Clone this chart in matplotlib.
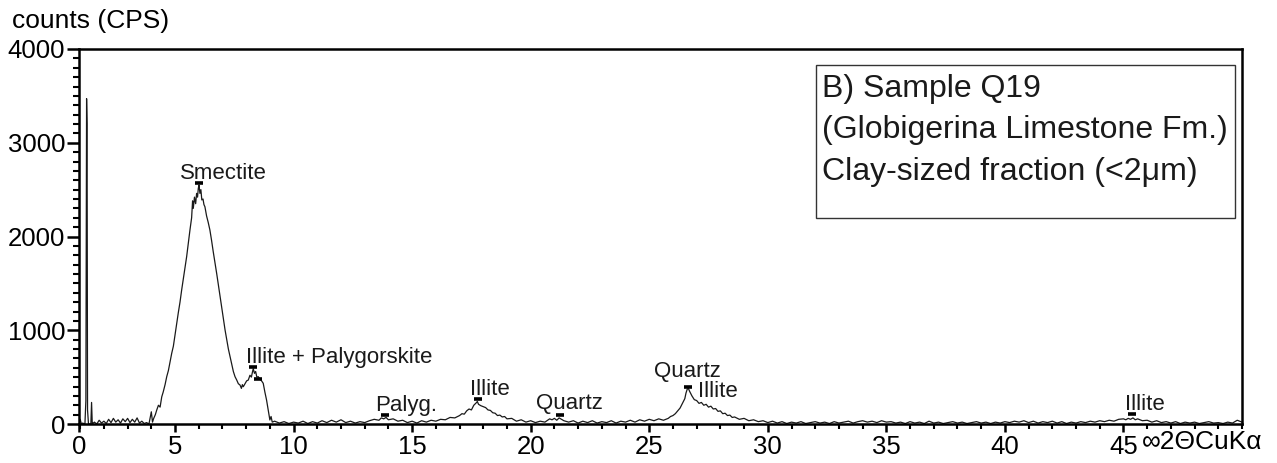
import matplotlib
matplotlib.use("Agg")
import matplotlib.pyplot as plt
from matplotlib.patches import Rectangle
from matplotlib.ticker import MultipleLocator, FixedLocator

plt.rcParams['font.family'] = ['Liberation Sans', 'DejaVu Sans']

# ---------------- data ----------------
two_theta_low = [0.95, 1.0, 1.05, 1.1, 1.2, 1.24, 1.27, 1.29, 1.31, 1.35, 1.45, 1.48, 1.51, 1.55,
                 1.6, 1.7, 1.8, 1.9, 2.0, 2.1, 2.2, 2.3, 2.4, 2.5, 2.6, 2.7, 2.8, 2.9, 3.0,
                 3.1, 3.2, 3.3, 3.4, 3.5, 3.6, 3.7, 3.8, 3.9, 4.0, 4.05, 4.1]
counts_low = [0, 50, 0, 10, 0, 250, 3470, 3200, 150, 0, 0, 230, 0, 10,
              20, 0, 40, 10, 30, 5, 50, 15, 60, 20, 45, 10, 55, 25, 60,
              15, 50, 20, 65, 10, 30, 5, 15, 0, 130, 20, 60]

two_theta_clay = [4.17, 4.23, 4.3, 4.37, 4.44, 4.5, 4.58, 4.65, 4.72, 4.79, 4.86, 4.93, 5.0,
                  5.07, 5.14, 5.21, 5.28, 5.35, 5.42, 5.49, 5.56, 5.63, 5.7, 5.74, 5.77,
                  5.82, 5.87, 5.91, 5.95, 5.98, 6.01, 6.05, 6.09, 6.13, 6.18, 6.22, 6.26,
                  6.33, 6.4, 6.47, 6.54, 6.61, 6.69, 6.76, 6.83, 6.9, 6.97, 7.04, 7.11,
                  7.18, 7.25, 7.32, 7.39, 7.46, 7.53, 7.6, 7.67, 7.74, 7.8, 7.84, 7.88,
                  7.95, 8.02, 8.09, 8.16, 8.22, 8.27, 8.3, 8.35, 8.4, 8.45, 8.51, 8.58,
                  8.65, 8.72, 8.79, 8.86, 8.93, 9.0, 9.05, 9.1]
counts_clay = [100, 150, 200, 180, 290, 340, 420, 505, 570, 660, 754, 830, 950,
               1074, 1190, 1300, 1430, 1550, 1670, 1785, 1930, 2070, 2200, 2380, 2300,
               2420, 2350, 2460, 2420, 2510, 2550, 2460, 2500, 2390, 2400, 2340, 2318,
               2220, 2150, 2070, 1960, 1840, 1714, 1600, 1480, 1358, 1240, 1120, 1003,
               900, 800, 718, 640, 560, 505, 470, 430, 416, 380, 420, 398,
               430, 460, 469, 520, 500, 560, 590, 540, 560, 500, 505, 480,
               460, 434, 340, 256, 150, 43, 80, 20]

two_theta_mid = [9.2, 9.4, 9.6, 9.8, 10.0, 10.2, 10.4, 10.6, 10.8, 11.0, 11.2, 11.4, 11.6,
                 11.8, 12.0, 12.2, 12.4, 12.6, 12.8, 13.0, 13.2, 13.4, 13.6, 13.7, 13.8,
                 13.9, 14.0, 14.2, 14.4, 14.6, 14.8, 15.0, 15.2, 15.4, 15.6, 15.8, 16.0,
                 16.2, 16.4, 16.6, 16.8, 17.0, 17.1, 17.2, 17.3, 17.4, 17.5, 17.6, 17.7,
                 17.75, 17.8, 17.9, 18.0, 18.1, 18.2, 18.3, 18.4, 18.5, 18.6, 18.7, 18.8,
                 18.9, 19.0, 19.2, 19.4, 19.6, 19.8, 20.0, 20.2, 20.4, 20.6, 20.8, 20.9,
                 21.0, 21.1, 21.2, 21.3, 21.4, 21.6, 21.8, 22.0, 22.2, 22.4, 22.6, 22.8,
                 23.0, 23.2, 23.4, 23.6, 23.8, 24.0, 24.2, 24.4, 24.6, 24.8, 25.0, 25.2,
                 25.4, 25.6, 25.8, 25.9]
counts_mid = [30, 10, 25, 5, 20, 10, 30, 5, 25, 10, 35, 15, 40,
              20, 45, 15, 30, 10, 25, 15, 35, 50, 40, 65, 55,
              70, 45, 55, 30, 40, 15, 30, 10, 35, 20, 40, 30,
              50, 45, 70, 65, 90, 110, 105, 140, 160, 150, 200, 225,
              240, 210, 195, 185, 175, 150, 145, 120, 115, 90, 95, 75,
              80, 55, 60, 30, 45, 20, 35, 15, 30, 20, 55, 45,
              60, 40, 65, 50, 35, 20, 35, 10, 30, 15, 35, 10,
              25, 15, 35, 10, 30, 20, 40, 20, 45, 30, 50, 35,
              55, 40, 60, 80]

two_theta_qtz = [26.0, 26.1, 26.2, 26.3, 26.4, 26.5, 26.55, 26.6, 26.65, 26.7, 26.8, 26.9,
                 27.0, 27.1, 27.2, 27.3, 27.4, 27.5, 27.6, 27.7, 27.8, 27.9, 28.0, 28.1,
                 28.2, 28.3, 28.4, 28.5, 28.6, 28.8, 29.0, 29.2, 29.4, 29.6, 29.8, 30.0,
                 30.2, 30.4]
counts_qtz = [90, 110, 140, 170, 220, 270, 330, 370, 380, 350, 300, 260,
              250, 220, 230, 200, 210, 180, 190, 160, 165, 135, 140, 110,
              115, 90, 95, 70, 75, 50, 60, 35, 45, 25, 35, 15,
              30, 10]

two_theta_high = [30.6, 30.8, 31.0, 31.2, 31.4, 31.6, 31.8, 32.0, 32.2, 32.4, 32.6, 32.8,
                  33.0, 33.2, 33.4, 33.6, 33.8, 34.0, 34.2, 34.4, 34.6, 34.8, 35.0, 35.2,
                  35.4, 35.6, 35.8, 36.0, 36.2, 36.4, 36.6, 36.8, 37.0, 37.2, 37.4, 37.6,
                  37.8, 38.0, 38.2, 38.4, 38.6, 38.8, 39.0, 39.2, 39.4, 39.6, 39.8, 40.0,
                  40.2, 40.4, 40.6, 40.8, 41.0, 41.2, 41.4, 41.6, 41.8, 42.0, 42.2, 42.4,
                  42.6, 42.8, 43.0, 43.2, 43.4, 43.6, 43.8, 44.0, 44.2, 44.4, 44.6, 44.8,
                  45.0, 45.1, 45.2, 45.3, 45.4, 45.5, 45.6, 45.8, 46.0, 46.2, 46.4, 46.6,
                  46.8, 47.0, 47.2, 47.4, 47.6, 47.8, 48.0, 48.2, 48.4, 48.6, 48.8, 49.0,
                  49.2, 49.4, 49.6, 49.8, 50.0]
counts_high = [25, 5, 20, 10, 25, 5, 15, 25, 10, 20, 5, 25,
               10, 20, 30, 10, 25, 35, 20, 30, 15, 35, 20, 25,
               10, 20, 5, 25, 10, 20, 5, 30, 10, 20, 5, 15,
               25, 10, 20, 5, 15, 25, 10, 20, 5, 20, 10, 25,
               15, 30, 20, 35, 15, 30, 10, 25, 15, 30, 10, 25,
               5, 20, 10, 25, 15, 30, 20, 35, 25, 40, 30, 50,
               55, 45, 60, 50, 65, 45, 55, 35, 40, 20, 35, 15,
               25, 10, 25, 5, 20, 10, 20, 5, 15, 25, 10, 15,
               5, 20, 10, 40, 20]

# peak markers
peak_theta = [6.01, 8.30, 8.51, 13.85, 17.78, 21.22, 26.63, 45.38]
peak_counts = [2570, 605, 480, 96, 263, 96, 400, 103]

# peak labels
label_texts = ["Smectite", "Illite + Palygorskite", "Palyg.", "Illite", "Quartz",
               "Quartz", "Illite", "Illite"]
label_theta = [5.21, 7.99, 13.43, 17.43, 20.21, 25.19, 27.04, 45.08]
label_counts = [2613, 651, 139, 309, 160, 501, 293, 149]

x_tick_labels = ["0", "5", "10", "15", "20", "25", "30", "35", "40", "45"]

# ---------------- figure ----------------
W, H = 1277, 463
fig = plt.figure(figsize=(W / 100, H / 100), dpi=100)
ax = fig.add_axes([79 / W, 1 - 424 / H, (1242 - 79) / W, (424 - 49) / H])

two_theta = two_theta_low + two_theta_clay + two_theta_mid + two_theta_qtz + two_theta_high
counts = counts_low + counts_clay + counts_mid + counts_qtz + counts_high
ax.plot(two_theta, counts, color='#1a1a1a', lw=0.9)

ax.plot(peak_theta, peak_counts, ls='none', marker='_', ms=6, mew=2.6, color='black')

for t, x, y in zip(label_texts, label_theta, label_counts):
    ax.text(x, y, t, fontsize=16, ha='left', va='baseline', color='#1a1a1a')

xmin, xmax = 0.95, 50.0
ax.set_xlim(xmin, xmax)
ax.set_ylim(0, 4000)

ax.xaxis.set_major_locator(FixedLocator([xmin, 5, 10, 15, 20, 25, 30, 35, 40, 45]))
ax.set_xticklabels(x_tick_labels)
ax.xaxis.set_minor_locator(FixedLocator(list(range(1, 51))))
ax.yaxis.set_major_locator(MultipleLocator(1000))
ax.yaxis.set_minor_locator(MultipleLocator(100))

for s in ax.spines.values():
    s.set_linewidth(1.8)
    s.set_color('black')

ax.tick_params(axis='x', which='major', direction='out', length=6, width=1.8,
               labelsize=18.5, pad=2)
ax.tick_params(axis='x', which='minor', direction='out', length=3.5, width=1.5)
ax.tick_params(axis='y', which='major', direction='out', length=9, width=1.8,
               labelsize=18.5, pad=1)
ax.tick_params(axis='y', which='minor', direction='out', length=4.5, width=1.5)

fig.text(12 / W, 1 - 28 / H, "counts (CPS)", fontsize=19, ha='left', va='baseline')
fig.text(1142 / W, 1 - 442 / H, "∞2ΘCuKα", fontsize=19, ha='left', va='center')

# annotation box
box = Rectangle((816 / W, 1 - 218 / H), (1235 - 816) / W, (218 - 65) / H,
                transform=fig.transFigure, fill=False, edgecolor='#333333', lw=1.0)
fig.add_artist(box)
fig.text(822 / W, 1 - 97 / H, "B) Sample Q19", fontsize=23, ha='left', va='baseline',
         color='#1a1a1a')
fig.text(822 / W, 1 - 138 / H, "(Globigerina Limestone Fm.)", fontsize=23, ha='left',
         va='baseline', color='#1a1a1a')
fig.text(822 / W, 1 - 180 / H, "Clay-sized fraction (<2μm)", fontsize=23, ha='left',
         va='baseline', color='#1a1a1a')

fig.savefig("out.png", dpi=100)
